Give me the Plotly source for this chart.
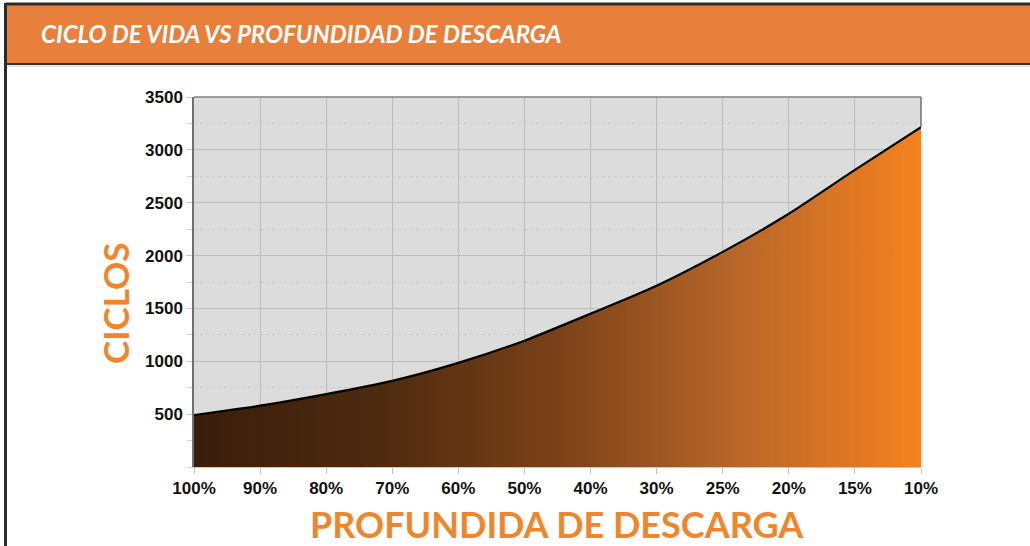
import plotly.graph_objects as go

categories = ["100%", "90%", "80%", "70%", "60%", "50%", "40%", "30%", "25%", "20%", "15%", "10%"]
cycles = [492, 580, 690, 815, 985, 1195, 1450, 1715, 2035, 2395, 2810, 3215]
y_tickvals = [500, 1000, 1500, 2000, 2500, 3000, 3500]
y_ticktext = ["500", "1000", "1500", "2000", "2500", "3000", "3500"]

W, H = 1030, 546
L, R, T, B = 194, 921, 97, 467

def px(x):
    return (x - L) / (R - L)

def py(y):
    return (B - y) / (B - T)

fig = go.Figure()
fig.add_trace(go.Scatter(
    x=categories, y=cycles, mode="lines",
    line=dict(color="black", width=2.2, shape="spline", smoothing=0.6),
    fill="tozeroy",
    fillgradient=dict(type="horizontal",
                      colorscale=[[0, "#3a1d0c"], [0.25, "#4d2a10"], [0.5, "#7a4119"],
                                  [0.75, "#b9672a"], [1, "#f5821f"]]),
    hoverinfo="x+y", showlegend=False,
))

tickfont = dict(family="Liberation Sans, Arial, sans-serif", size=17, color="#111111", weight="bold")

fig.update_xaxes(
    type="category", range=[0, len(categories) - 1],
    showgrid=True, gridcolor="#bcbcbc", gridwidth=1,
    ticks="outside", ticklen=6, tickcolor="#c0c0c0",
    tickfont=tickfont, showline=True, linecolor="#c8c8c8", linewidth=1,
    mirror=False, zeroline=False,
)
fig.update_yaxes(
    range=[0, 3500], tickvals=y_tickvals, ticktext=y_ticktext,
    showgrid=True, gridcolor="#bcbcbc", gridwidth=1,
    ticks="outside", ticklen=6, tickcolor="#c8c8c8",
    tickfont=tickfont, showline=True, linecolor="#707070", linewidth=1.5,
    zeroline=False,
    minor=dict(dtick=250, tick0=0, showgrid=True, gridcolor="#cacaca", griddash="dot",
               ticks="outside", ticklen=5, tickcolor="#d0d0d0"),
)

shapes = [
    # header band
    dict(type="rect", xref="paper", yref="paper", x0=px(6), x1=px(1032), y0=py(64), y1=py(4),
         fillcolor="#e8803c", line=dict(width=0), layer="above"),
    # outer border lines
    dict(type="line", xref="paper", yref="paper", x0=px(5.5), x1=px(1032), y0=py(4), y1=py(4),
         line=dict(color="#2a2a2a", width=3), layer="above"),
    dict(type="line", xref="paper", yref="paper", x0=px(5.5), x1=px(5.5), y0=py(3), y1=py(548),
         line=dict(color="#2a2a2a", width=3), layer="above"),
    dict(type="line", xref="paper", yref="paper", x0=px(5.5), x1=px(1032), y0=py(64), y1=py(64),
         line=dict(color="#333333", width=2), layer="above"),
    dict(type="line", xref="paper", yref="paper", x0=px(7), x1=px(1032), y0=py(66), y1=py(66),
         line=dict(color="#cccccc", width=1), layer="above"),
    # plot frame top/right
    dict(type="line", xref="paper", yref="paper", x0=0, x1=1, y0=1, y1=1,
         line=dict(color="#808080", width=1.5), layer="above"),
    dict(type="line", xref="paper", yref="paper", x0=1, x1=1, y0=py(127), y1=1,
         line=dict(color="#707070", width=1.5), layer="above"),
]

annotations = [
    dict(text="CICLO DE VIDA VS PROFUNDIDAD DE DESCARGA", xref="paper", yref="paper",
         x=px(39), y=py(34), xanchor="left", yanchor="middle", showarrow=False,
         font=dict(family="Lato, Open Sans, sans-serif", size=24, color="white",
                   weight="bold", style="italic")),
    dict(text="CICLOS", xref="paper", yref="paper", x=px(115), y=py(304),
         xanchor="center", yanchor="middle", textangle=-90, showarrow=False,
         font=dict(family="Lato, Open Sans, sans-serif", size=35, color="#f0862c", weight="bold")),
    dict(text="PROFUNDIDA DE DESCARGA", xref="paper", yref="paper", x=px(557), y=py(524),
         xanchor="center", yanchor="middle", showarrow=False,
         font=dict(family="Lato, Open Sans, sans-serif", size=36, color="#f0862c", weight="bold")),
]

fig.update_layout(
    width=W, height=H,
    margin=dict(l=L, r=W - R, t=T, b=H - B, pad=0),
    paper_bgcolor="white", plot_bgcolor="#dcdcdc",
    shapes=shapes, annotations=annotations,
    showlegend=False,
)

fig.write_html("out.html", config={"displayModeBar": False},
               post_script="document.body.style.margin='0';document.body.style.overflow='hidden';")
